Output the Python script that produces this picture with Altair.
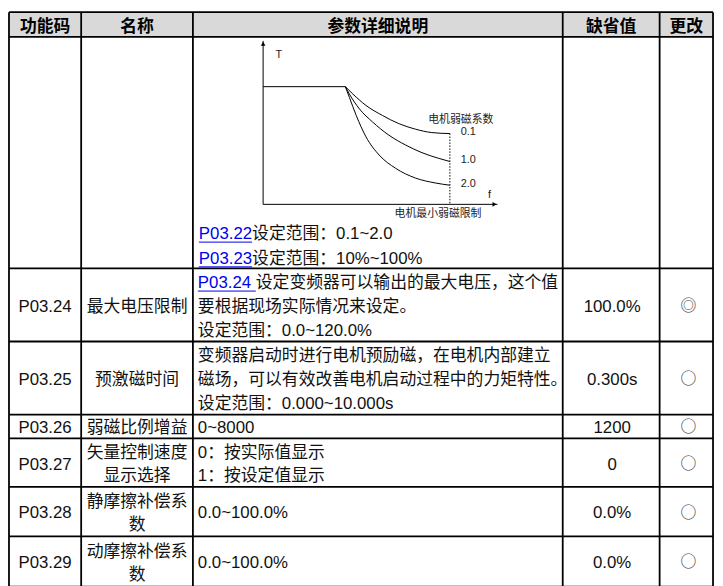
import altair as alt
import pandas as pd

# ------------------------------------------------------------------ data
headers = ["功能码", "名称", "参数详细说明", "缺省值", "更改"]
codes = ["P03.24", "P03.25", "P03.26", "P03.27", "P03.28", "P03.29"]
names = [
    ["最大电压限制"],
    ["预激磁时间"],
    ["弱磁比例增益"],
    ["矢量控制速度", "显示选择"],
    ["静摩擦补偿系", "数"],
    ["动摩擦补偿系", "数"],
]
desc_links = ["P03.24 ", "", "", "", "", ""]
descs = [
    ["设定变频器可以输出的最大电压，这个值", "要根据现场实际情况来设定。", "设定范围：0.0~120.0%"],
    ["变频器启动时进行电机预励磁，在电机内部建立", "磁场，可以有效改善电机启动过程中的力矩特性。", "设定范围：0.000~10.000s"],
    ["0~8000"],
    ["0：按实际值显示", "1：按设定值显示"],
    ["0.0~100.0%"],
    ["0.0~100.0%"],
]
defaults = ["100.0%", "0.300s", "1200", "0", "0.0%", "0.0%"]
changes = ["◎", "○", "○", "○", "○", "○"]

note_links = ["P03.22", "P03.23"]
note_texts = ["设定范围：0.1~2.0", "设定范围：10%~100%"]

# diagram (f and T in axis units, 0..1)
flat_T = 0.72
flat_f_end = 0.351
curve_names = ["0.1", "1.0", "2.0"]
curve_f = [
    [0.351, 0.383, 0.439, 0.509, 0.579, 0.650, 0.720, 0.797],
    [0.351, 0.368, 0.411, 0.467, 0.537, 0.608, 0.678, 0.748, 0.797],
    [0.351, 0.368, 0.397, 0.439, 0.495, 0.565, 0.650, 0.734, 0.797],
]
curve_T = [
    [0.720, 0.675, 0.605, 0.544, 0.494, 0.460, 0.439, 0.433],
    [0.720, 0.675, 0.584, 0.504, 0.423, 0.363, 0.316, 0.282, 0.262],
    [0.720, 0.655, 0.545, 0.413, 0.302, 0.221, 0.161, 0.131, 0.117],
]
diag_title = "电机弱磁系数"
diag_xlabel = "电机最小弱磁限制"

# ------------------------------------------------------------------ layout
W, H, OFF = 715, 578, 8
col_edges = [9, 82, 195, 569, 667, 721]
row_edges = [9, 34, 268, 342, 416, 440, 489, 539, 590]
LH = 24
FS = 17
FONT = "Liberation Sans, Noto Sans CJK SC"

xs = alt.Scale(domain=[OFF, OFF + W], range=[0, W], nice=False, zero=False)
ys = alt.Scale(domain=[OFF, OFF + H], range=[0, H], nice=False, zero=False)
X = alt.X("x:Q", scale=xs, axis=None)
Y = alt.Y("y:Q", scale=ys, axis=None)
X2 = alt.X2("x2:Q")
Y2 = alt.Y2("y2:Q")


def line_y(r0, r1, n, i, lh=LH):
    return (r0 + r1) / 2 + 2 + (i - (n - 1) / 2) * lh


def ccx(c):
    return (col_edges[c] + col_edges[c + 1]) / 2


# grid lines
grid = []
for yv in row_edges:
    grid.append(dict(x=col_edges[0], y=yv, x2=col_edges[-1], y2=yv))
for xv in col_edges:
    grid.append(dict(x=xv, y=row_edges[0], x2=xv, y2=row_edges[-1]))
grid_df = pd.DataFrame(grid)

head_bg = pd.DataFrame([dict(x=col_edges[0], x2=col_edges[-1], y=row_edges[0], y2=row_edges[1])])

head_df = pd.DataFrame([dict(x=ccx(i), y=line_y(row_edges[0], row_edges[1], 1, 0), text=t)
                        for i, t in enumerate(headers)])

center_rows, left_rows, sym_rows, link_rows, ul_rows = [], [], [], [], []
LINK_W = {"P03.24 ": 3.447, "P03.22": 3.169, "P03.23": 3.169}
for k in range(len(codes)):
    r0, r1 = row_edges[2 + k], row_edges[3 + k]
    center_rows.append(dict(x=ccx(0), y=line_y(r0, r1, 1, 0), text=codes[k]))
    for i, t in enumerate(names[k]):
        center_rows.append(dict(x=ccx(1), y=line_y(r0, r1, len(names[k]), i), text=t))
    center_rows.append(dict(x=ccx(3) + 1, y=line_y(r0, r1, 1, 0), text=defaults[k]))
    sym_rows.append(dict(x=ccx(4) + 2, y=line_y(r0, r1, 1, 0) - 1, text=changes[k]))
    n = len(descs[k])
    for i, t in enumerate(descs[k]):
        yv = line_y(r0, r1, n, i)
        x0 = col_edges[2] + 5
        if i == 0 and desc_links[k]:
            w = LINK_W[desc_links[k]] * FS
            link_rows.append(dict(x=x0, y=yv, text=desc_links[k].strip()))
            ul_rows.append(dict(x=x0, x2=x0 + w, y=yv + 8, y2=yv + 8))
            x0 += w
        left_rows.append(dict(x=x0, y=yv, text=t))

# notes under the diagram
for i in range(len(note_links)):
    yv = 233.5 + i * 25
    x0 = col_edges[2] + 6
    w = LINK_W[note_links[i]] * FS
    link_rows.append(dict(x=x0, y=yv, text=note_links[i]))
    ul_rows.append(dict(x=x0, x2=x0 + w, y=yv + 8, y2=yv + 8))
    left_rows.append(dict(x=x0 + w, y=yv, text=note_texts[i]))

center_df = pd.DataFrame(center_rows)
left_df = pd.DataFrame(left_rows)
sym_df = pd.DataFrame(sym_rows)
link_df = pd.DataFrame(link_rows)
ul_df = pd.DataFrame(ul_rows)

# diagram frame
OX, OY, DW, DH = 266, 203.3, 237, 165.3


def px(f):
    return OX + f * DW


def py(t):
    return OY - t * DH


axes_df = pd.DataFrame([
    dict(x=OX, y=OY, x2=OX, y2=py(1.0)),
    dict(x=OX, y=OY, x2=px(1.0), y2=OY),
    dict(x=OX, y=py(flat_T), x2=px(flat_f_end), y2=py(flat_T)),
])
end_f = curve_f[0][-1]
dot_df = pd.DataFrame([dict(x=px(end_f), y=py(curve_T[0][-1]), x2=px(end_f), y2=OY)])
curves = []
for name, fs, ts in zip(curve_names, curve_f, curve_T):
    for j, (f, t) in enumerate(zip(fs, ts)):
        curves.append(dict(series=name, order=j, x=px(f), y=py(t)))
curve_df = pd.DataFrame(curves)

arrow_up = pd.DataFrame([dict(x=OX, y=py(1.0) + 3)])
arrow_rt = pd.DataFrame([dict(x=px(1.0) - 3, y=OY)])

dlab = [dict(x=OX + 16, y=py(1.0) + 14, text="T", a="c"),
        dict(x=px(end_f) + 11, y=118.5, text=diag_title, a="c"),
        dict(x=px(1.0) - 8, y=OY - 9, text="f", a="c"),
        dict(x=px(end_f) - 12, y=OY + 9.5, text=diag_xlabel, a="c")]
for name, ts in zip(curve_names, curve_T):
    dlab.append(dict(x=px(end_f) + 11, y=py(ts[-1]) - 1.5, text=name, a="l"))
dlab_df = pd.DataFrame(dlab)

# ------------------------------------------------------------------ chart
layers = [
    alt.Chart(head_bg).mark_rect(color="#d9d9d9").encode(x=X, x2=X2, y=Y, y2=Y2),
    alt.Chart(grid_df).mark_rule(color="black", strokeWidth=1.8).encode(x=X, x2=X2, y=Y, y2=Y2),
    alt.Chart(head_df).mark_text(font=FONT, fontSize=FS, fontWeight="bold", color="black",
                                 align="center", baseline="middle").encode(x=X, y=Y, text="text:N"),
    alt.Chart(center_df).mark_text(font=FONT, fontSize=FS, color="#111",
                                   align="center", baseline="middle").encode(x=X, y=Y, text="text:N"),
    alt.Chart(left_df).mark_text(font=FONT, fontSize=FS, color="#111",
                                 align="left", baseline="middle").encode(x=X, y=Y, text="text:N"),
    alt.Chart(link_df).mark_text(font=FONT, fontSize=FS, color="#0000ee",
                                 align="left", baseline="middle").encode(x=X, y=Y, text="text:N"),
    alt.Chart(ul_df).mark_rule(color="#0000ee", strokeWidth=1).encode(x=X, x2=X2, y=Y, y2=Y2),
    alt.Chart(sym_df).mark_text(font="Noto Sans CJK SC", fontSize=16, color="#333",
                                align="center", baseline="middle").encode(x=X, y=Y, text="text:N"),
    alt.Chart(axes_df).mark_rule(color="black", strokeWidth=1).encode(x=X, x2=X2, y=Y, y2=Y2),
    alt.Chart(dot_df).mark_rule(color="black", strokeWidth=1, strokeDash=[1.5, 1.5]).encode(x=X, x2=X2, y=Y, y2=Y2),
    alt.Chart(curve_df).mark_line(color="black", strokeWidth=1, interpolate="monotone").encode(
        x=X, y=Y, detail="series:N", order="order:Q"),
    alt.Chart(arrow_up).mark_point(shape="triangle-up", filled=True, size=22, color="black", opacity=1).encode(x=X, y=Y),
    alt.Chart(arrow_rt).mark_point(shape="triangle-right", filled=True, size=22, color="black", opacity=1).encode(x=X, y=Y),
    alt.Chart(dlab_df[dlab_df.a == "c"]).mark_text(font=FONT, fontSize=11, color="#222",
                                                   align="center", baseline="middle").encode(x=X, y=Y, text="text:N"),
    alt.Chart(dlab_df[dlab_df.a == "l"]).mark_text(font=FONT, fontSize=11, color="#222",
                                                   align="left", baseline="middle").encode(x=X, y=Y, text="text:N"),
]

chart = alt.layer(*layers).properties(
    width=W, height=H, padding=0, autosize="none", background="white"
).configure_view(stroke=None)

chart.save("out.html", embed_options={"renderer": "svg", "actions": False})
